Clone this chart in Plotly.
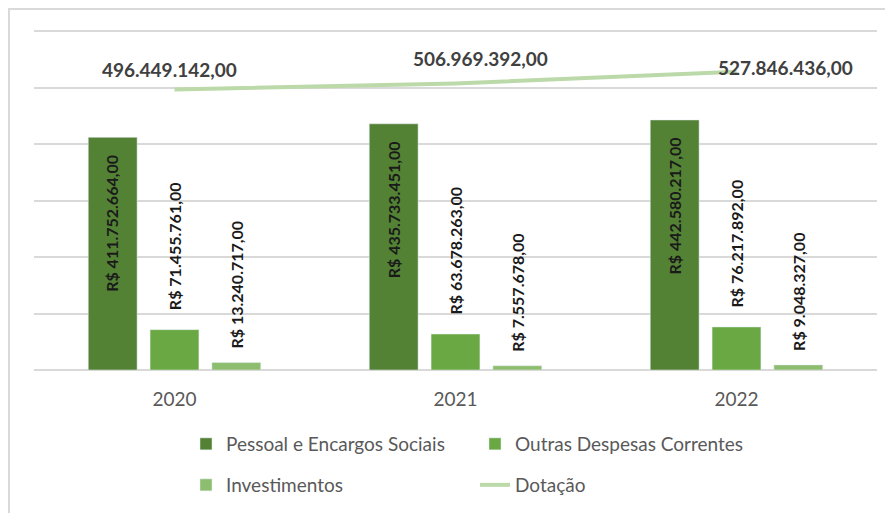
import plotly.graph_objects as go

years = ["2020", "2021", "2022"]
pessoal = [411752664, 435733451, 442580217]
outras = [71455761, 63678263, 76217892]
invest = [13240717, 7557678, 9048327]
dotacao = [496449142, 506969392, 527846436]

def brl(v):
    s = f"{v:,.2f}"
    return s.replace(",", "X").replace(".", ",").replace("X", ".")

FONT = "Lato"
GRAY = "#595959"
c_pes, c_out, c_inv, c_dot = "#548235", "#6aa843", "#8dbd6e", "#bcd9a9"

fig = go.Figure()
fig.add_trace(go.Bar(name="Pessoal e Encargos Sociais", x=years, y=pessoal,
                     marker_color=c_pes, legend="legend"))
fig.add_trace(go.Bar(name="Outras Despesas Correntes", x=years, y=outras,
                     marker_color=c_out, legend="legend"))
fig.add_trace(go.Bar(name="Investimentos", x=years, y=invest,
                     marker_color=c_inv, legend="legend2"))
fig.add_trace(go.Scatter(name="Dotação", x=years, y=dotacao, mode="lines",
                         line=dict(color=c_dot, width=4), legend="legend2"))

ann = []
offsets = [-62.5, 0, 62.5]
lab_font = dict(family=FONT, size=16, color="#1a1a1a", weight="bold")
for i in range(len(years)):
    ann.append(dict(x=i, y=pessoal[i], xref="x", yref="y", text="R$ " + brl(pessoal[i]),
                    textangle=-90, showarrow=False, xshift=offsets[0], yshift=-16,
                    yanchor="top", xanchor="center", font=lab_font))
    for ser, off, ys in ((outras, offsets[1], 17), (invest, offsets[2], 12)):
        ann.append(dict(x=i, y=ser[i], xref="x", yref="y", text="R$ " + brl(ser[i]),
                        textangle=-90, showarrow=False, xshift=off, yshift=ys,
                        yanchor="bottom", xanchor="center", font=lab_font))
dshift = [(-5, 20), (25, 25), (49, 4)]
for i in range(len(years)):
    ann.append(dict(x=i, y=dotacao[i], xref="x", yref="y", text=brl(dotacao[i]),
                    showarrow=False, xshift=dshift[i][0], yshift=dshift[i][1],
                    xanchor="center", yanchor="middle",
                    font=dict(family=FONT, size=19, color="#404040", weight="bold")))

# page body has an 8px margin, so figure coordinates are screen - 8
W, H = 885, 505
L, R, T, B = 26, 16, 19, 143
pw, ph = W - L - R, H - T - B
ymax = 600000000 * ph / 339.0

fig.update_layout(
    width=W, height=H,
    margin=dict(l=L, r=R, t=T, b=B, autoexpand=False),
    paper_bgcolor="white", plot_bgcolor="white",
    barmode="group", bargap=0.34, bargroupgap=0.21,
    font=dict(family=FONT, color=GRAY),
    annotations=ann,
    showlegend=True,
    legend=dict(orientation="h", x=(178 - L) / pw, y=(H - B - 436) / ph,
                xanchor="left", yanchor="middle", entrywidth=244, entrywidthmode="pixels",
                font=dict(family=FONT, size=19, color=GRAY), bgcolor="rgba(0,0,0,0)"),
    legend2=dict(orientation="h", x=(178 - L) / pw, y=(H - B - 477) / ph,
                 xanchor="left", yanchor="middle", entrywidth=244, entrywidthmode="pixels",
                 font=dict(family=FONT, size=19, color=GRAY), bgcolor="rgba(0,0,0,0)"),
    shapes=[dict(type="rect", xref="paper", yref="paper",
                 x0=(1 - L) / pw, x1=(W + 10 - L) / pw,
                 y0=-(B + 10) / ph, y1=(H - B - 1) / ph,
                 line=dict(color="#d9d9d9", width=2), fillcolor="rgba(0,0,0,0)", layer="below")],
)
fig.update_xaxes(type="category", categoryorder="array", categoryarray=years,
                 range=[-0.5, 2.5], showgrid=False, showline=False, ticks="",
                 ticklabelstandoff=16, tickfont=dict(family=FONT, size=19, color=GRAY))
fig.update_yaxes(range=[0, ymax], dtick=100000000, tick0=0, showticklabels=False,
                 showgrid=True, gridcolor="#d9d9d9", gridwidth=2,
                 zeroline=True, zerolinecolor="#d9d9d9", zerolinewidth=2, showline=False)

fig.write_html("out.html")
